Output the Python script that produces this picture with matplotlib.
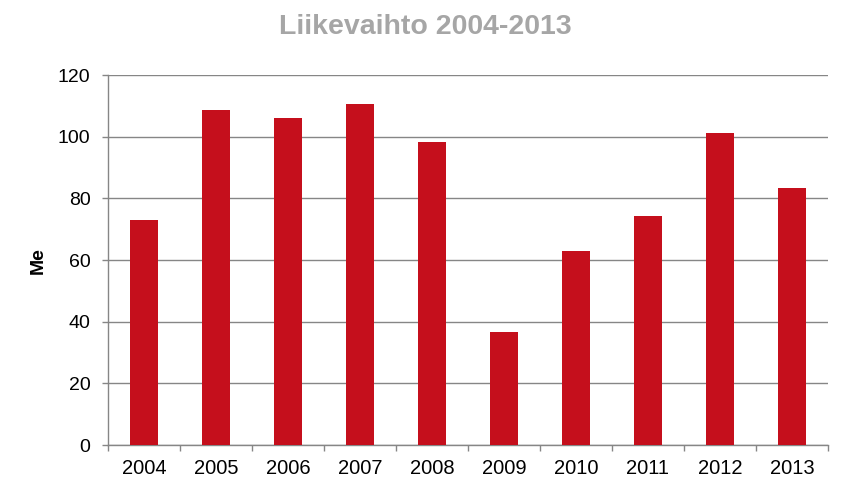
import matplotlib
matplotlib.use("Agg")
import matplotlib.pyplot as plt
import numpy as np

years = ["2004", "2005", "2006", "2007", "2008", "2009", "2010", "2011", "2012", "2013"]
values = [73.0, 108.7, 106.1, 110.6, 98.3, 36.7, 62.9, 74.3, 101.2, 83.4]
yticks = [0, 20, 40, 60, 80, 100, 120]

plt.rcParams['font.family'] = ['Liberation Sans', 'DejaVu Sans']

fig = plt.figure(figsize=(8.5, 4.95), dpi=100)
ax = fig.add_axes([0.127, 0.101, 0.847, 0.747])

x = np.arange(len(years))
ax.bar(x, values, width=0.4, color="#C50F1C", zorder=3)

ax.set_xlim(-0.5, len(years) - 0.5)
ax.set_ylim(0, 120)
ax.set_yticks(yticks)
ax.set_yticklabels([str(v) for v in yticks], fontsize=14)
ax.set_xticks(x)
ax.set_xticklabels(years, fontsize=14.5)
ax.set_xticks(np.arange(-0.5, len(years)), minor=True)
ax.tick_params(axis='x', which='major', length=0, pad=10)
ax.tick_params(axis='x', which='minor', length=4.5, color="#868686", width=1)
ax.tick_params(axis='y', length=4.5, color="#868686", width=1, pad=8)

ax.grid(axis='y', color="#868686", linewidth=1, zorder=0)
for s in ['top', 'right']:
    ax.spines[s].set_visible(False)
for s in ['left', 'bottom']:
    ax.spines[s].set_color("#868686")
    ax.spines[s].set_linewidth(1)

ax.set_ylabel("Me", fontsize=14, fontweight='bold', labelpad=8)
fig.text(0.5, 1 - 34 / 495, "Liikevaihto 2004-2013", ha='center', va='baseline',
         fontsize=20.5, fontweight='bold', color="#A6A6A6")

fig.savefig("out.png", dpi=100)
